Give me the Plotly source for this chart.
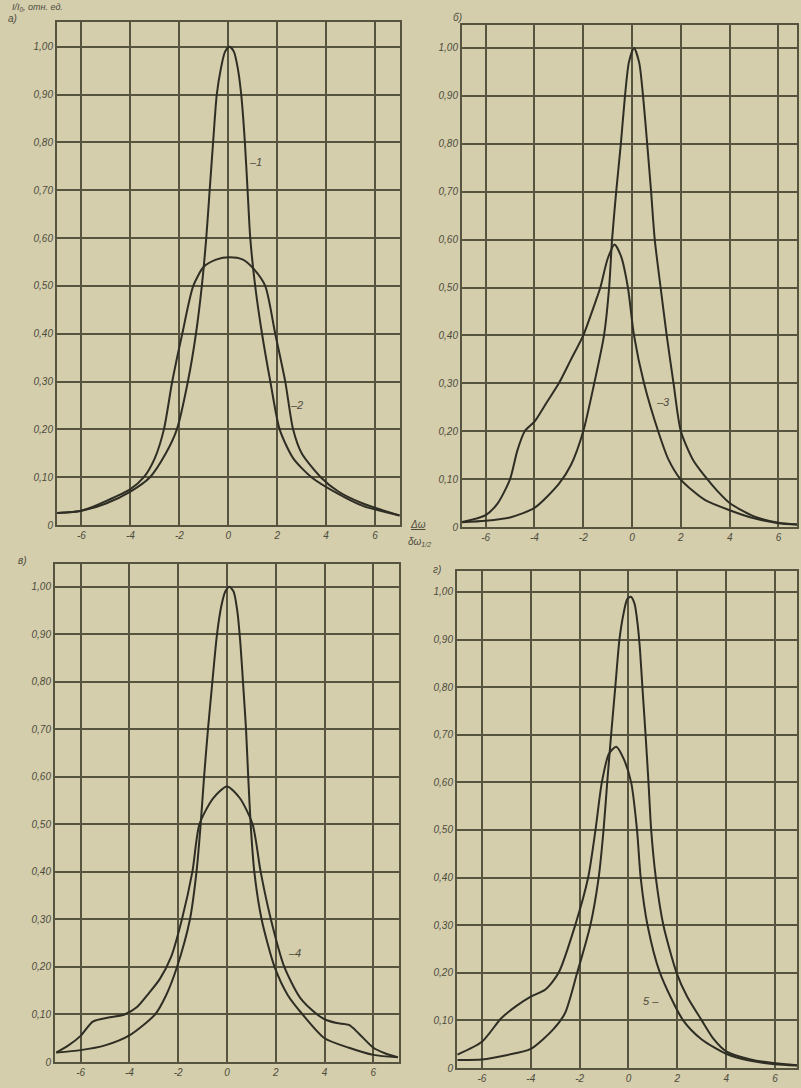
import plotly.graph_objects as go

# ---------------- data ----------------
# panel a
xa1 = [-7, -6, -5, -4, -3.2, -2.55, -2.1, -1.65, -1.32, -1.08, -0.9, -0.76, -0.62, -0.47, -0.3, -0.13, 0.05, 0.23, 0.39, 0.53, 0.68, 0.79, 0.9, 1.1, 1.38, 1.72, 2.1, 2.65, 3.4, 4.5, 5.5, 7]
ya1 = [0.025, 0.03, 0.045, 0.07, 0.10, 0.15, 0.20, 0.30, 0.40, 0.50, 0.60, 0.70, 0.80, 0.90, 0.955, 0.99, 1.0, 0.99, 0.955, 0.90, 0.80, 0.70, 0.60, 0.50, 0.40, 0.30, 0.20, 0.14, 0.10, 0.065, 0.04, 0.02]
xa2 = [-7, -6, -5, -4, -3.45, -3.0, -2.63, -2.29, -1.88, -1.43, -1.0, -0.5, 0.05, 0.6, 1.05, 1.51, 1.92, 2.33, 2.65, 3.0, 3.78, 4.5, 5.5, 7]
ya2 = [0.025, 0.03, 0.05, 0.075, 0.10, 0.14, 0.20, 0.30, 0.40, 0.50, 0.54, 0.555, 0.56, 0.555, 0.535, 0.50, 0.40, 0.30, 0.20, 0.15, 0.10, 0.07, 0.045, 0.02]

# panel b
xb1 = [-7, -6, -5, -4, -3.0, -2.5, -2.0, -1.55, -1.15, -0.94, -0.82, -0.65, -0.46, -0.29, -0.13, 0.08, 0.29, 0.45, 0.62, 0.78, 0.93, 1.17, 1.42, 1.7, 2.0, 2.5, 3.0, 3.5, 4, 5, 6, 6.8]
yb1 = [0.01, 0.013, 0.02, 0.04, 0.09, 0.13, 0.20, 0.30, 0.40, 0.50, 0.60, 0.70, 0.80, 0.90, 0.97, 1.0, 0.97, 0.90, 0.80, 0.70, 0.60, 0.50, 0.40, 0.30, 0.20, 0.14, 0.105, 0.075, 0.05, 0.022, 0.009, 0.005]
xb3 = [-7, -6, -5.5, -5.0, -4.7, -4.4, -4.0, -3.5, -3.0, -2.5, -2.0, -1.5, -1.3, -1.0, -0.72, -0.45, -0.17, 0.08, 0.49, 1.07, 1.5, 1.98, 2.5, 3.0, 4.0, 5.0, 6.0, 6.8]
yb3 = [0.01, 0.025, 0.05, 0.10, 0.16, 0.20, 0.22, 0.26, 0.30, 0.35, 0.40, 0.47, 0.50, 0.56, 0.59, 0.565, 0.50, 0.40, 0.30, 0.20, 0.14, 0.10, 0.075, 0.056, 0.035, 0.018, 0.008, 0.005]

# panel c
xc1 = [-7, -6, -5, -4, -2.95, -2.5, -2.05, -1.52, -1.25, -1.08, -0.94, -0.78, -0.6, -0.41, -0.23, -0.07, 0.1, 0.27, 0.42, 0.55, 0.68, 0.78, 0.87, 0.97, 1.12, 1.42, 1.95, 2.5, 3.1, 4, 5, 6, 7]
yc1 = [0.02, 0.025, 0.035, 0.056, 0.10, 0.14, 0.20, 0.30, 0.40, 0.50, 0.60, 0.70, 0.80, 0.90, 0.96, 0.99, 1.0, 0.99, 0.95, 0.88, 0.78, 0.70, 0.60, 0.50, 0.40, 0.30, 0.20, 0.14, 0.10, 0.05, 0.03, 0.015, 0.01]
xc4 = [-7, -6.5, -6.0, -5.5, -4.8, -4.2, -3.7, -3.2, -2.75, -2.3, -1.85, -1.42, -1.13, -0.57, 0.0, 0.53, 1.05, 1.38, 1.8, 2.35, 3.0, 3.7, 4.0, 4.5, 5.0, 5.4, 6.0, 6.5, 7.0]
yc4 = [0.02, 0.035, 0.055, 0.085, 0.094, 0.10, 0.115, 0.145, 0.175, 0.22, 0.30, 0.40, 0.50, 0.555, 0.58, 0.555, 0.50, 0.40, 0.30, 0.20, 0.135, 0.10, 0.09, 0.082, 0.078, 0.06, 0.03, 0.018, 0.01]

# panel d
xd1 = [-7, -6, -5, -4, -3.1, -2.6, -2.1, -1.56, -1.22, -1.02, -0.87, -0.71, -0.54, -0.37, -0.2, -0.05, 0.1, 0.25, 0.38, 0.47, 0.57, 0.7, 0.82, 0.93, 1.12, 1.43, 1.97, 2.4, 3.0, 3.5, 4, 5, 6, 6.9]
yd1 = [0.017, 0.018, 0.027, 0.04, 0.08, 0.115, 0.20, 0.30, 0.40, 0.50, 0.60, 0.70, 0.80, 0.90, 0.955, 0.985, 0.99, 0.975, 0.93, 0.88, 0.80, 0.70, 0.60, 0.50, 0.40, 0.30, 0.20, 0.15, 0.10, 0.06, 0.035, 0.018, 0.01, 0.006]
xd5 = [-7, -6, -5.2, -4.6, -4.0, -3.4, -2.86, -2.18, -1.65, -1.35, -1.09, -0.8, -0.5, -0.2, 0.11, 0.35, 0.5, 0.78, 1.29, 2.24, 3.0, 4.0, 5.0, 6.0, 6.9]
yd5 = [0.028, 0.055, 0.105, 0.13, 0.15, 0.165, 0.20, 0.30, 0.40, 0.50, 0.60, 0.66, 0.675, 0.65, 0.60, 0.50, 0.40, 0.30, 0.20, 0.10, 0.06, 0.03, 0.015, 0.008, 0.005]

x_ticks = [-6, -4, -2, 0, 2, 4, 6]
x_ticktext = ["-6", "-4", "-2", "0", "2", "4", "6"]
y_ticks = [0, 0.1, 0.2, 0.3, 0.4, 0.5, 0.6, 0.7, 0.8, 0.9, 1.0]
y_ticktext = ["0", "0,10", "0,20", "0,30", "0,40", "0,50", "0,60", "0,70", "0,80", "0,90", "1,00"]

# ---------------- styling ----------------
W, H = 801, 1088
PAPER = "#d4cead"
INK = "#2f2e24"
GRID = "#56543f"
TXT = "#4d4b3b"
FONT = dict(family="Liberation Sans", size=10, color=TXT, style="italic")

# panel geometry in pixels: (left, right, top, bottom), x range, y range
panels = [
    dict(px=(57, 400), py=(22, 525), xr=[-7.0, 7.02], yr=[0, 1.052]),
    dict(px=(462, 797), py=(25, 527), xr=[-6.97, 6.76], yr=[0, 1.048]),
    dict(px=(55, 399), py=(564, 1062), xr=[-7.05, 7.05], yr=[0, 1.048]),
    dict(px=(457, 797), py=(571, 1068), xr=[-7.02, 6.9], yr=[0, 1.044]),
]

curves = [
    [(xa1, ya1), (xa2, ya2)],
    [(xb1, yb1), (xb3, yb3)],
    [(xc1, yc1), (xc4, yc4)],
    [(xd1, yd1), (xd5, yd5)],
]

fig = go.Figure()
layout = {}
for i, (p, cs) in enumerate(zip(panels, curves)):
    n = "" if i == 0 else str(i + 1)
    for (xs, ys) in cs:
        fig.add_trace(go.Scatter(
            x=xs, y=ys, mode="lines", xaxis="x" + n, yaxis="y" + n,
            line=dict(color=INK, width=2, shape="spline", smoothing=0.7),
            showlegend=False, hoverinfo="skip"))
    l, r = p["px"]
    t, b = p["py"]
    layout["xaxis" + n] = dict(
        domain=[l / W, r / W], range=p["xr"], anchor="y" + n,
        tickmode="array", tickvals=x_ticks, ticktext=x_ticktext,
        showgrid=True, gridcolor=GRID, gridwidth=2, zeroline=False,
        showline=True, linecolor=GRID, linewidth=2, mirror=True,
        ticks="", tickfont=FONT, automargin=False, fixedrange=True)
    layout["yaxis" + n] = dict(
        domain=[(H - b) / H, (H - t) / H], range=p["yr"], anchor="x" + n,
        tickmode="array", tickvals=y_ticks, ticktext=y_ticktext,
        showgrid=True, gridcolor=GRID, gridwidth=2, zeroline=False,
        showline=True, linecolor=GRID, linewidth=2, mirror=True,
        ticks="", tickfont=FONT, automargin=False, fixedrange=True)

ann = []
def pa(text, x, y, xanchor="center", yanchor="middle", size=10):
    ann.append(dict(text=text, x=x / W, y=1 - y / H, xref="paper", yref="paper",
                    showarrow=False, xanchor=xanchor, yanchor=yanchor,
                    font=dict(family="Liberation Sans", size=size, color=TXT, style="italic")))

# y-axis title (top-left)
pa("I/I<sub>0</sub>, отн. ед.", 10, 7, xanchor="left", size=9)
# panel letters
pa("а)", 12, 18)
pa("б)", 458, 17)
pa("в)", 22, 560)
pa("г)", 437, 569)
# x-axis title between the upper panels
pa("<u>Δω</u>", 418, 524, size=10)
pa("δω<sub>1/2</sub>", 420, 542, size=10)

# curve labels (data coordinates)
def da(text, x, y, n):
    ann.append(dict(text=text, x=x, y=y, xref="x" + n, yref="y" + n, showarrow=False,
                    xanchor="left", yanchor="middle",
                    font=dict(family="Liberation Sans", size=11, color=TXT, style="italic")))

da("–1", 0.75, 0.76, "")
da("–2", 2.45, 0.25, "")
da("–3", 0.9, 0.26, "2")
da("–4", 2.4, 0.23, "3")
da("5 –", 0.5, 0.14, "4")

layout["annotations"] = ann
fig.update_layout(
    width=W, height=H, margin=dict(l=0, r=0, t=0, b=0, autoexpand=False),
    paper_bgcolor=PAPER, plot_bgcolor=PAPER, showlegend=False,
    font=FONT, **layout)

fig.write_html("out.html", config={"displayModeBar": False, "staticPlot": True},
               post_script="document.body.style.margin='0';document.body.style.overflow='hidden';")
